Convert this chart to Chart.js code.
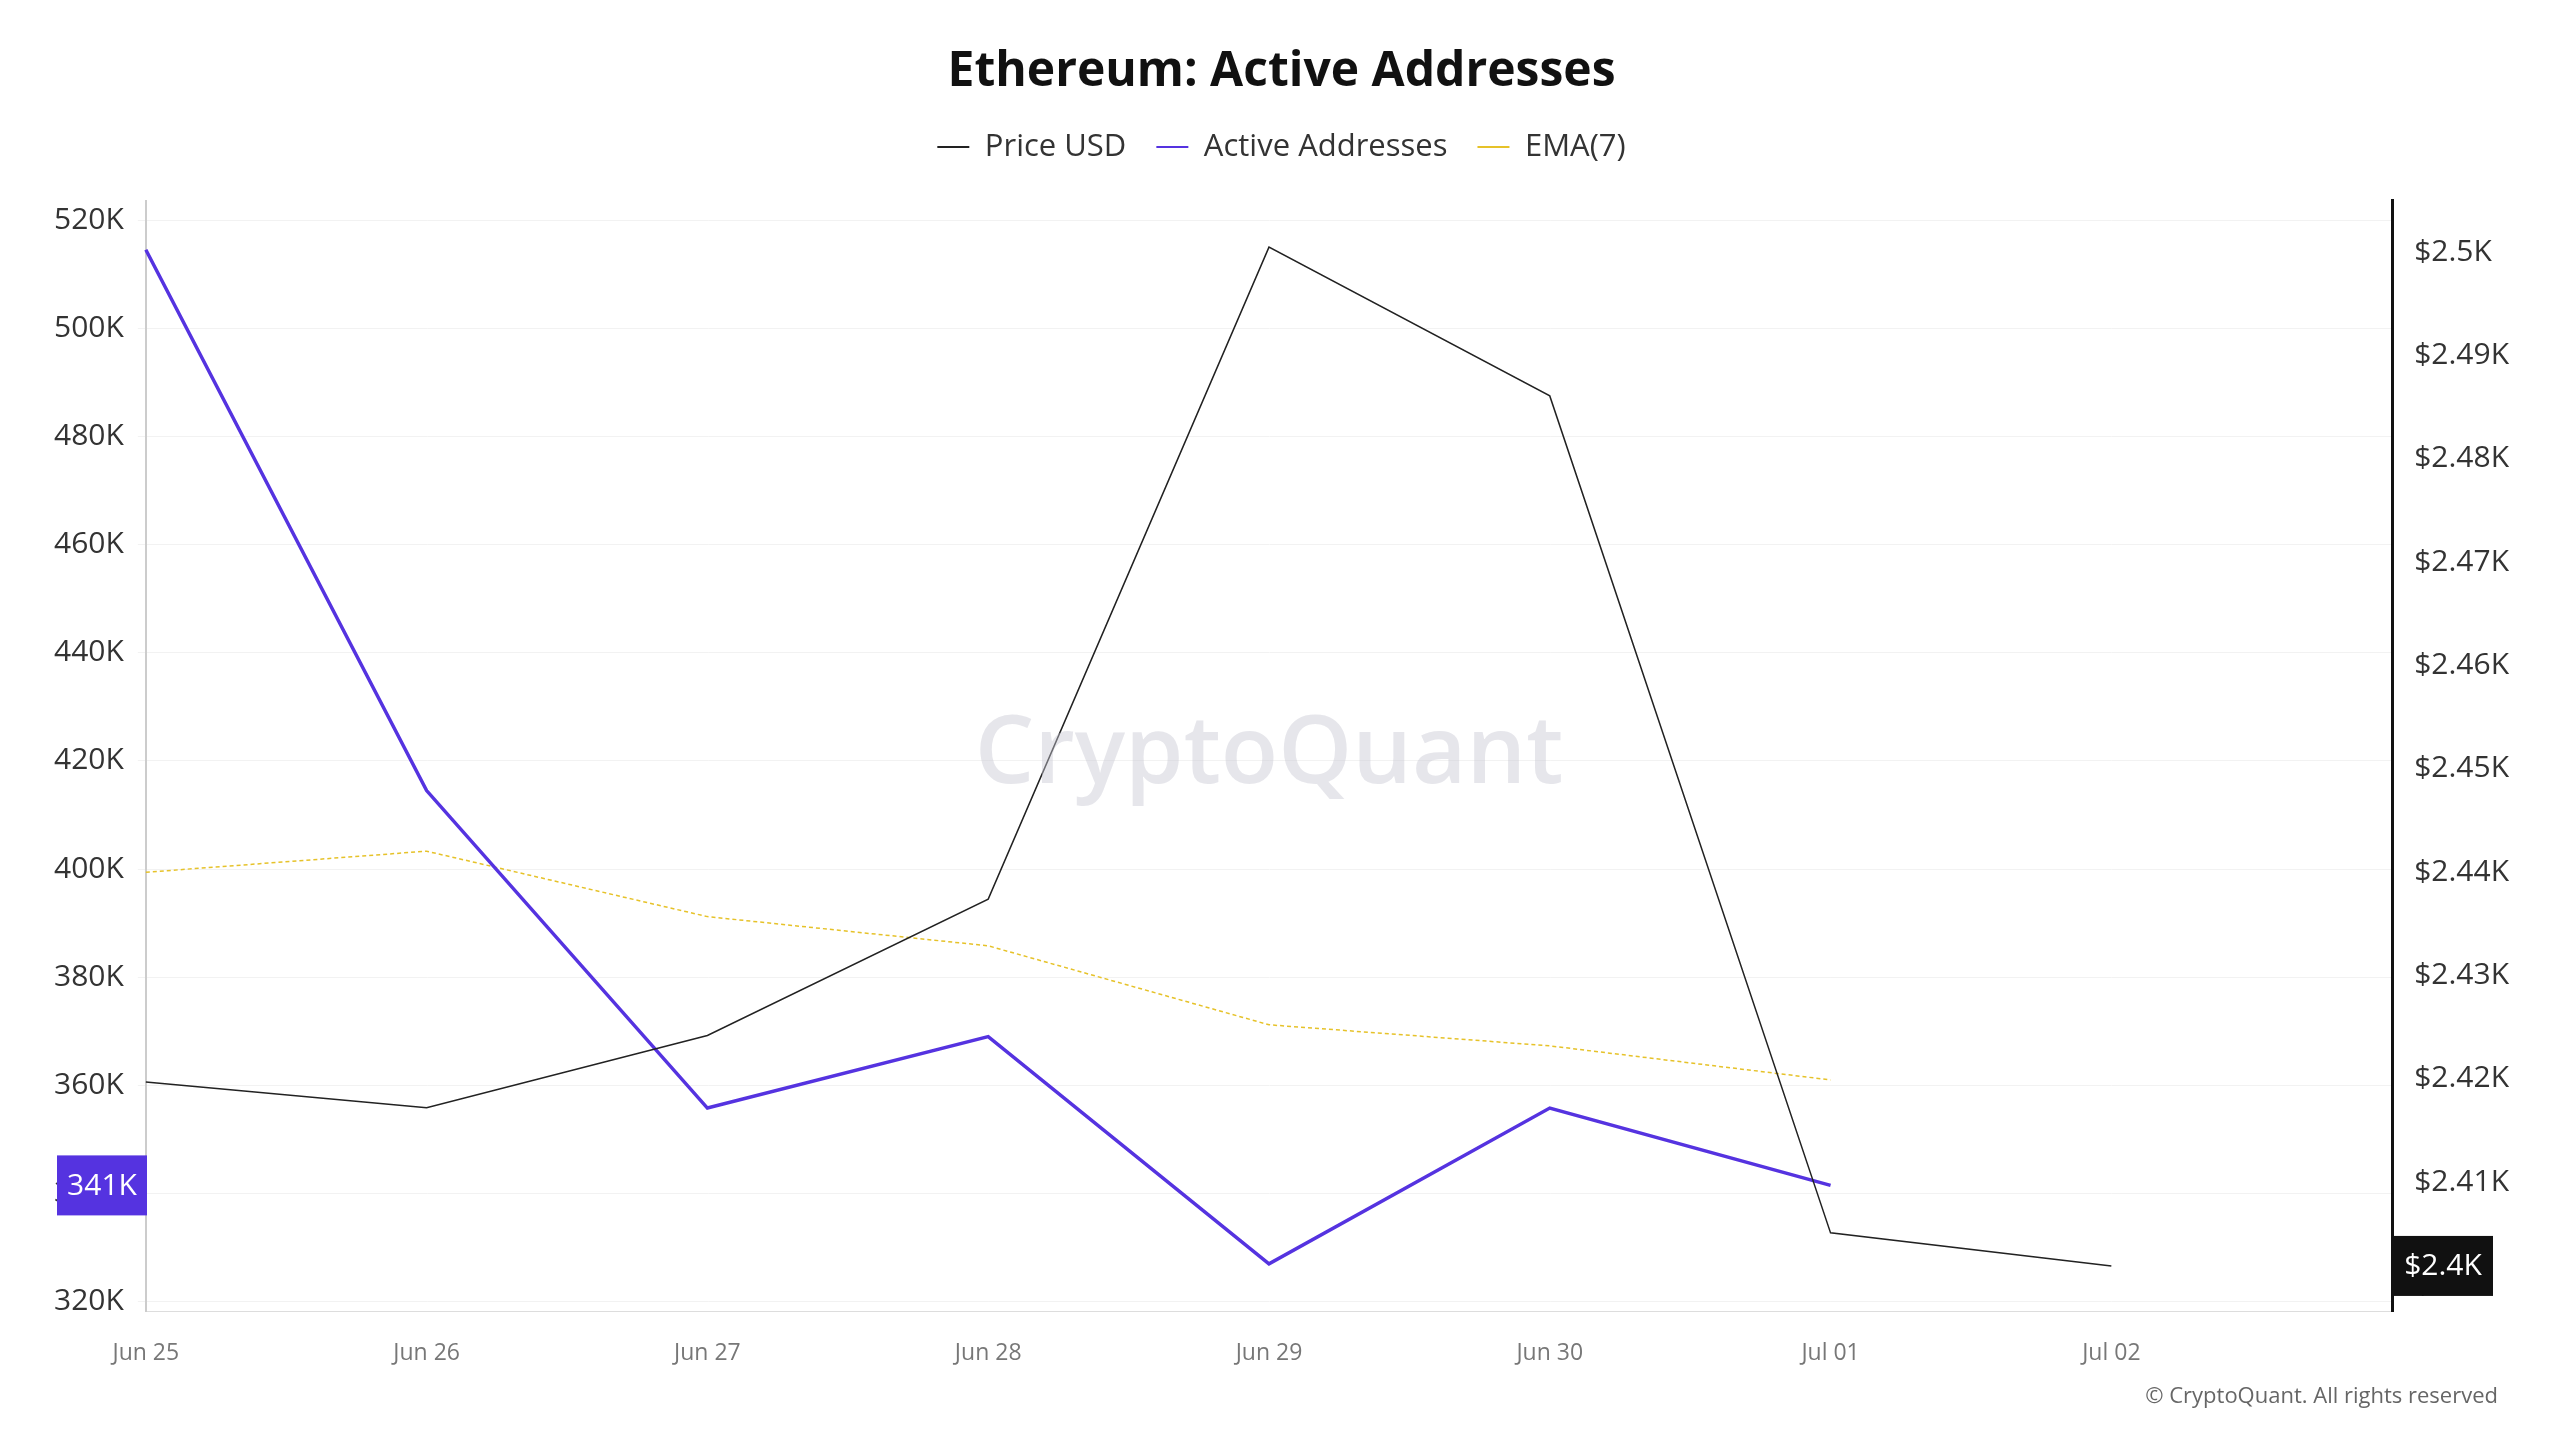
<!DOCTYPE html>
<html><head><meta charset="utf-8">
<script src="https://cdn.jsdelivr.net/npm/chart.js@4"></script>
<style>html,body{margin:0;background:#fff}#c{display:block}</style>
</head><body>
<canvas id="c" width="2560" height="1440"></canvas>
<script>
const categories = ["Jun 25","Jun 26","Jun 27","Jun 28","Jun 29","Jun 30","Jul 01","Jul 02",""];
const activeAddresses = [514500,414500,355800,369000,327000,355800,341500,null,null];
const ema7 = [399400,403300,391200,385800,371200,367300,361000,null,null];
const priceUSD = [2419.7,2417.2,2424.2,2437.4,2500.5,2486.1,2405.1,2401.9,null];
const leftTicks = [320000,340000,360000,380000,400000,420000,440000,460000,480000,500000,520000];
const rightTicks = [2400,2410,2420,2430,2440,2450,2460,2470,2480,2490,2500];

const overlay = {
  id:'overlay',
  afterDraw(chart){
    const ctx=chart.ctx, a=chart.chartArea;
    ctx.save();
    ctx.font='600 94px "Open Sans"'; ctx.fillStyle='rgba(200,200,210,0.45)';
    ctx.textAlign='center'; ctx.textBaseline='middle';
    ctx.fillText('CryptoQuant',(a.left+a.right)/2,(a.top+a.bottom)/2);
    ctx.font='22px "Open Sans"'; ctx.fillStyle='#666'; ctx.textAlign='right';
    ctx.fillText('© CryptoQuant. All rights reserved',2498,1397);
    const yl=chart.scales.y.getPixelForValue(activeAddresses[6]);
    ctx.fillStyle='#5533e0'; ctx.fillRect(57,yl-30,90,60);
    ctx.fillStyle='#fff'; ctx.font='30px "Open Sans"'; ctx.textAlign='center';
    ctx.fillText('341K',102,yl+1);
    const yr=chart.scales.y1.getPixelForValue(priceUSD[7]);
    ctx.fillStyle='#111'; ctx.fillRect(2393,yr-30,100,60);
    ctx.fillStyle='#fff'; ctx.fillText('$2.4K',2443,yr+1);
    ctx.restore();
  }
};
const legendGap = {id:'legendGap',beforeInit(chart){const f=chart.legend.fit;chart.legend.fit=function(){f.bind(chart.legend)();this.height+=28;};}};
Chart.defaults.font.family='"Open Sans"';
new Chart(document.getElementById('c'),{
  type:'line',
  data:{labels:categories,datasets:[
    {label:'Price USD',data:priceUSD,borderColor:'#222',backgroundColor:'#222',borderWidth:1.5,pointRadius:0,yAxisID:'y1',tension:0},
    {label:'Active Addresses',data:activeAddresses,borderColor:'#5533e0',backgroundColor:'#5533e0',borderWidth:3.5,pointRadius:0,yAxisID:'y',tension:0},
    {label:'EMA(7)',data:ema7,borderColor:'#e6c229',backgroundColor:'#e6c229',borderWidth:1.5,borderDash:[4,3],pointRadius:0,yAxisID:'y',tension:0}
  ]},
  options:{responsive:false,devicePixelRatio:1,animation:false,
    layout:{padding:{left:40,right:37,top:6,bottom:53}},
    plugins:{
      title:{display:true,text:'Ethereum: Active Addresses',font:{size:48,weight:'bold'},color:'#111',padding:{top:38,bottom:0}},
      legend:{labels:{font:{size:31},color:'#333',boxWidth:32,boxHeight:0,padding:30,
        generateLabels(ch){return ch.data.datasets.map((d,i)=>({text:d.label,strokeStyle:d.borderColor,fillStyle:d.borderColor,lineWidth:2,lineDash:d.borderDash||[],datasetIndex:i,fontColor:'#333'}));}}},
      tooltip:{enabled:false}
    },
    scales:{
      x:{offset:false,grid:{display:false},border:{color:'#ddd'},
        ticks:{font:{size:23},color:'#777',maxRotation:0,padding:20,autoSkip:false}},
      y:{position:'left',min:318200,max:523600,
        afterBuildTicks(s){s.ticks=leftTicks.map(v=>({value:v}));},
        ticks:{font:{size:30},color:'#333',padding:14,callback:v=>(v/1000)+'K'},
        grid:{color:'#f2f2f2'},border:{color:'#ccc',width:2}},
      y1:{position:'right',min:2397.5,max:2505,
        afterBuildTicks(s){s.ticks=rightTicks.map(v=>({value:v}));},
        ticks:{font:{size:30},color:'#333',padding:14,callback:v=>'$'+(v/1000).toFixed(v%100===0?1:2).replace(/0$/,'')+'K'},
        grid:{display:false},border:{color:'#111',width:3}}
    }
  },
  plugins:[overlay,legendGap]
});
</script>
</body></html>
